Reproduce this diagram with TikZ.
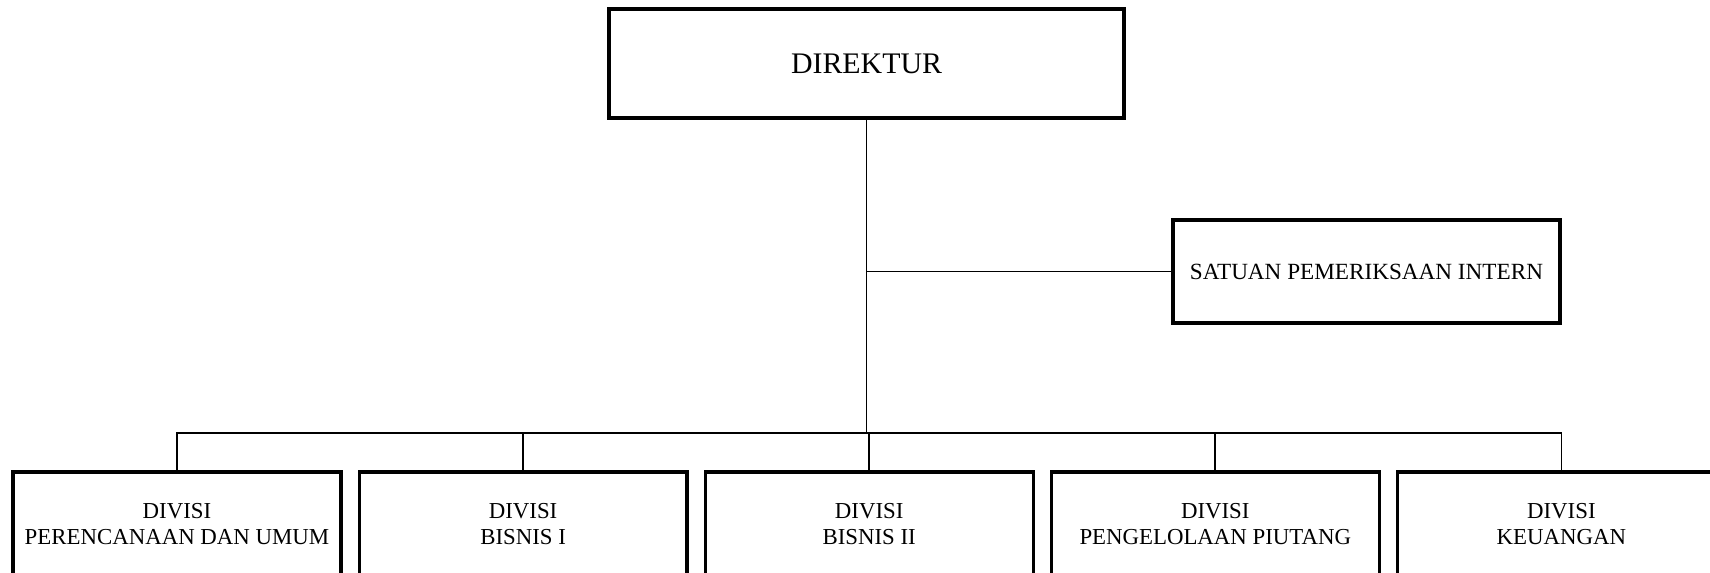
\documentclass[tikz,border=0pt]{standalone}
\usepackage{fontspec}
\setmainfont{Liberation Serif}
\usetikzlibrary{positioning}
\tikzset{
    jabatan/.style={draw, rectangle, line width=1.8pt, align=center, inner sep=0pt},
    pimpinan/.style={jabatan, minimum width=10.3cm, minimum height=2.18cm, font=\fontsize{17}{20}\selectfont},
    staf/.style={jabatan, minimum width=7.74cm, minimum height=2.06cm, font=\fontsize{13.2}{16}\selectfont},
    divisi/.style={jabatan, minimum width=6.56cm, minimum height=2.08cm, font=\fontsize{13}{15.3}\selectfont},
    garis/.style={draw, line width=0.95pt}
}
\begin{document}
\begin{tikzpicture}[x=0.02cm, y=0.02cm, node distance=0.30cm]
    \useasboundingbox (0,0) rectangle (1710,-573);

    \node [pimpinan] (dir) at (866.5,-63.5) {DIREKTUR};
    \node [staf] (spi) at (1366.5,-271.5) {SATUAN PEMERIKSAAN INTERN};

    \node [divisi] (pu) at (177,-524) {DIVISI\\PERENCANAAN DAN UMUM};
    \node [divisi, right=of pu] (b1) {DIVISI\\BISNIS I};
    \node [divisi, right=of b1] (b2) {DIVISI\\BISNIS II};
    \node [divisi, right=of b2] (pp) {DIVISI\\PENGELOLAAN PIUTANG};
    \node [divisi, right=of pp] (ku) {DIVISI\\KEUANGAN};

    \coordinate (cabang) at (866.5,-433);

    \draw [garis] (dir.south) -- (cabang);
    \draw [garis] (dir.south |- spi.west) -- (spi.west);
    \draw [garis] (pu.north) |- (cabang) -| (ku.north);
    \foreach \n in {b1,b2,pp}
        \draw [garis] (\n.north) -- (\n.north |- cabang);
\end{tikzpicture}
\end{document}
